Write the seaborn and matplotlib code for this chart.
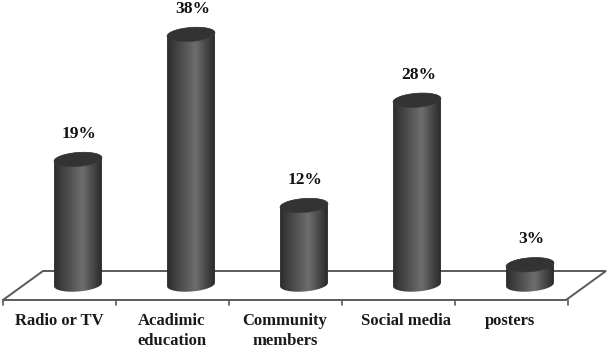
import numpy as np
import pandas as pd
import matplotlib
matplotlib.use("Agg")
import matplotlib.pyplot as plt
from matplotlib.colors import LinearSegmentedColormap
from matplotlib.patches import Polygon
import seaborn as sns

categories = ["Radio or TV", "Acadimic\neducation", "Community\nmembers", "Social media", "posters"]
values = [19, 38, 12, 28, 3]
labels = ["19%", "38%", "12%", "28%", "3%"]

# pixel scale of the picture
px_x = 113.0
px_y = 6.58
x0 = 78.0
y0 = 284.5
W, H = 608, 348


def cap(cx, cy, half):
    # half: "top", "bottom" or "all" part of a slightly tilted ellipse, in data units
    a, b = 24.0, 7.0
    tilt = np.deg2rad(4.5)
    t = {"top": np.linspace(np.pi, 0, 40),
         "bottom": np.linspace(0, -np.pi, 40),
         "all": np.linspace(0, 2 * np.pi, 80)}[half]
    dx = a * np.cos(t) * np.cos(tilt) - b * np.sin(t) * np.sin(tilt)
    dy = a * np.cos(t) * np.sin(tilt) + b * np.sin(t) * np.cos(tilt)
    return np.column_stack([cx + dx / px_x, cy + dy / px_y])


df = pd.DataFrame({"category": categories, "value": values})

sns.set_theme(style="white")
plt.rcParams["font.family"] = ["Liberation Serif", "DejaVu Serif"]

fig = plt.figure(figsize=(W / 100, H / 100), dpi=100)
ax = fig.add_axes([0, 0, 1, 1])

sns.barplot(data=df, x="category", y="value", color="#555555", width=48 / px_x,
            saturation=1, ax=ax, zorder=3)
ax.axis("off")

# floor of the 3d plot
floor_col = "#5a5a5a"
front_y = (y0 - 300) / px_y
back_y = (y0 - 271) / px_y
fx0, fx1 = (3 - x0) / px_x, (566 - x0) / px_x
depth = 40 / px_x
ax.plot([fx0, fx0 + depth, fx1 + depth, fx1, fx0], [front_y, back_y, back_y, front_y, front_y],
        color=floor_col, lw=1.4, zorder=1, solid_joinstyle="miter")
for i in range(len(categories) + 1):
    ax.plot([fx0 + i, fx0 + i], [front_y, front_y - 5 / px_y], color=floor_col, lw=1.2, zorder=1)

# cylinder shading
cyl = LinearSegmentedColormap.from_list("cyl", [(0, "#2b2b2b"), (0.12, "#3a3a3a"), (0.58, "#6e6e6e"),
                                                (0.88, "#3a3a3a"), (1, "#262626")])
grad = np.linspace(0, 1, 128).reshape(1, -1)
for bar, val, lab in zip(ax.patches, values, labels):
    cx = bar.get_x() + bar.get_width() / 2
    body = Polygon(np.vstack([cap(cx, 0, "bottom"), cap(cx, val, "top")]),
                   closed=True, transform=ax.transData)
    bar.set_visible(False)
    im = ax.imshow(grad, cmap=cyl, aspect="auto", zorder=3, vmin=0, vmax=1,
                   extent=[cx - 24.5 / px_x, cx + 24.5 / px_x, -2, val + 2])
    im.set_clip_path(body)
    ax.add_patch(Polygon(cap(cx, val, "all"), closed=True, fc="#333333", ec="#3c3c3c", lw=0.5, zorder=4))
    ax.annotate(lab, (cx, val), xytext=(1, 18.5), textcoords="offset points", ha="center", va="center",
                fontsize=12.5, fontweight="bold", color="#111111", zorder=5)

ax.set_xlim(-x0 / px_x, (W - x0) / px_x)
ax.set_ylim((y0 - H) / px_y, y0 / px_y)

# category labels sit under the front edge of the floor, not quite evenly
label_shift = [-19, -19, -19, -11, -20]
for i, name in enumerate(categories):
    ax.text(i + label_shift[i] / px_x, (y0 - 313) / px_y, name, ha="center", va="top", fontsize=12,
            fontweight="bold", color="#1a1a1a", linespacing=1.35)

fig.savefig("out.png", dpi=100)
